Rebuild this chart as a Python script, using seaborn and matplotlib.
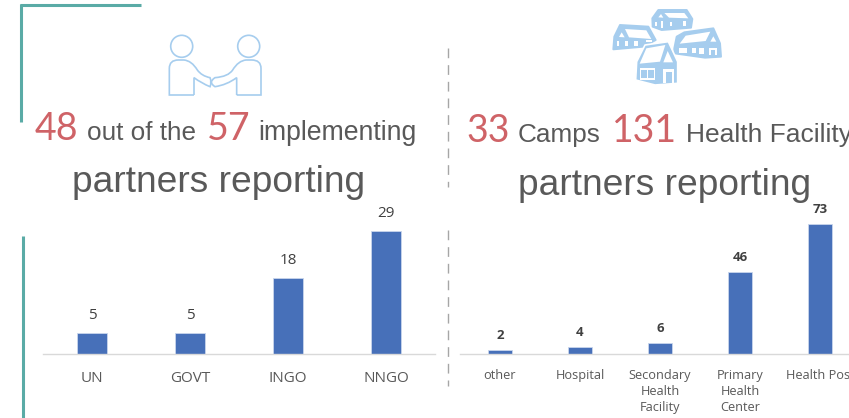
import numpy as np
import matplotlib
matplotlib.use("Agg")
import matplotlib.pyplot as plt
from matplotlib.path import Path
from matplotlib.patches import PathPatch, Circle, Polygon
import seaborn as sns

W, H = 849, 418

partner_types = ["UN", "GOVT", "INGO", "NNGO"]
partner_counts = [5, 5, 18, 29]

facility_types = ["other", "Hospital", "Secondary\nHealth\nFacility", "Primary\nHealth\nCenter", "Health Post"]
facility_counts = [2, 4, 6, 46, 73]

BLUE = "#4770b9"
GREY = "#595959"
RED = "#cf6367"
TEAL = "#5aaba6"
ICON = "#a6cdee"

sns.set_theme(style="white")
plt.rcParams["font.family"] = ["Open Sans", "DejaVu Sans"]

fig = plt.figure(figsize=(W / 100, H / 100), dpi=100)


def px_axes(x0, y0, x1, y1):
    return fig.add_axes([x0 / W, 1 - y1 / H, (x1 - x0) / W, (y1 - y0) / H])


def bar_chart(ax, cats, vals, width, ymax, lab_size, lab_pad, lab_weight, tick_size, tick_pad):
    sns.barplot(x=cats, y=vals, ax=ax, color=BLUE, width=width, saturation=1,
                edgecolor="#c9d6ec", linewidth=0.6)
    ax.set_xlim(-0.5, len(cats) - 0.5)
    ax.set_ylim(0, ymax)
    ax.patch.set_alpha(0)
    sns.despine(ax=ax, left=True)
    ax.spines["bottom"].set_color("#d9d9d9")
    ax.spines["bottom"].set_linewidth(1)
    ax.set_yticks([])
    ax.tick_params(axis="x", length=0, labelsize=tick_size, labelcolor=GREY, pad=tick_pad)
    for lab in ax.get_xticklabels():
        lab.set_linespacing(1.32)
    ax.bar_label(ax.containers[0], padding=lab_pad, fontsize=lab_size,
                 color="#404040", fontweight=lab_weight)


ax1 = px_axes(43, 200, 435, 354)
bar_chart(ax1, partner_types, partner_counts, 0.31, 154 / 4.24, 11, 7, "normal", 11, 12)

ax2 = px_axes(460, 190, 860, 354)
bar_chart(ax2, facility_types, facility_counts, 0.31, 164 / 1.78, 9.5, 6, "bold", 9.2, 10.5)

# everything else sits on a pixel overlay
ov = fig.add_axes([0, 0, 1, 1], zorder=5)
ov.set_xlim(0, W)
ov.set_ylim(H, 0)
ov.axis("off")

ov.plot([20, 141], [4.5, 4.5], color=TEAL, lw=2.2, solid_capstyle="butt")
ov.plot([21, 21], [4, 122], color=TEAL, lw=2.2, solid_capstyle="butt")
ov.plot([23, 23], [236, 418], color=TEAL, lw=2.2, solid_capstyle="butt")
for y0, y1 in [(48, 187), (230, 386)]:
    ov.plot([448, 448], [y0, y1], color="#a6a6a6", lw=1, dashes=(7, 5))


def head_text(x, y, s, big=False, size=None):
    if big:
        ov.text(x, y, s, color=RED, fontsize=27, family="Lato", va="baseline", ha="left")
    else:
        ov.text(x, y, s, color=GREY, fontsize=size, family="Liberation Sans", va="baseline", ha="left")


head_text(35, 140, "48", True)
head_text(87, 140, "out of the", size=18.8)
head_text(207, 140, "57", True)
head_text(258, 140, "implementing", size=19.2)
head_text(72, 192, "partners reporting", size=26.7)

head_text(466, 142, "33", True)
head_text(518, 142, "Camps", size=18.8)
head_text(612, 142, "131", True)
head_text(686, 142, "Health Facility", size=19)
head_text(518, 195, "partners reporting", size=26.7)


def hs(pts):
    return [(160 + x / 3, 30 + y / 3) for x, y in pts]


lw_icon = 1.2
for cx in (181.7, 248.7):
    ov.add_patch(Circle((cx, 46.3), 11, fill=False, ec=ICON, lw=lw_icon))
M, L, C = Path.MOVETO, Path.LINETO, Path.CURVE3
left_arm = Path(
    hs([(102, 195), (28, 195), (28, 115), (28, 90), (55, 90), (72, 90), (95, 92),
        (112, 120), (125, 138), (150, 143), (156, 157), (150, 170), (125, 160), (102, 143), (102, 195)]),
    [M, L, L, C, C, L, C, C, C, C, C, C, C, C, L],
)
right_arm = Path(
    hs([(230, 195), (303, 195), (303, 115), (303, 90), (275, 90), (258, 90), (235, 92),
        (218, 120), (205, 140), (165, 143), (143, 157), (165, 170), (200, 165), (230, 143), (230, 195)]),
    [M, L, L, C, C, L, C, C, C, C, C, C, C, C, L],
)
for p in (left_arm, right_arm):
    ov.add_patch(PathPatch(p, fill=False, ec=ICON, lw=lw_icon))


def hp(pts):
    return [(605 + x / 3, 5 + y / 3) for x, y in pts]


def box(x0, y0, x1, y1):
    return [(x0, y0), (x1, y0), (x1, y1), (x0, y1)]


def house(outline, holes, halo=False):
    ov.add_patch(Polygon(hp(outline), closed=True, fc=ICON, ec="white" if halo else ICON,
                         lw=1.2 if halo else 1.4, joinstyle="round"))
    for h in holes:
        ov.add_patch(Polygon(hp(h), closed=True, fc="white", ec="none"))


house([(142, 40), (160, 15), (245, 15), (262, 42), (258, 68), (170, 75), (143, 65)],
      [[(178, 24), (238, 24), (250, 40), (192, 38)],
       [(160, 37), (168, 27), (175, 38)],
       box(150, 50, 155, 64), box(169, 48, 175, 70), box(195, 50, 202, 64), box(235, 48, 242, 62)])
house([(25, 133), (28, 95), (45, 60), (130, 65), (152, 105), (115, 125)],
      [[(60, 72), (124, 76), (139, 102), (72, 97)],
       [(42, 96), (50, 82), (59, 97)],
       box(37, 108, 43, 122), box(60, 108, 70, 122), box(88, 108, 100, 122), box(122, 106, 142, 112)])
house([(208, 130), (215, 95), (238, 82), (325, 70), (345, 115), (348, 155), (300, 158), (208, 145)],
      [[(242, 92), (316, 80), (302, 108), (224, 116)],
       [(316, 110), (325, 94), (334, 110)],
       box(222, 128, 247, 143), box(262, 128, 272, 145), box(283, 128, 298, 148),
       [(312, 130), (336, 130), (336, 150), (331, 150), (331, 136), (318, 136), (318, 150), (312, 150)]])
house([(92, 225), (95, 170), (120, 120), (190, 110), (218, 170), (218, 235), (150, 240)],
      [[(124, 130), (181, 120), (165, 170), (104, 176)],
       [(175, 172), (188, 138), (204, 172)],
       box(104, 190, 150, 225),
       [(175, 193), (206, 193), (206, 234), (200, 234), (200, 200), (182, 200), (182, 234), (175, 234)]],
      halo=True)
for r in (box(109, 195, 125, 220), box(130, 195, 146, 220)):
    ov.add_patch(Polygon(hp(r), closed=True, fc=ICON, ec="none"))

fig.savefig("out.png", dpi=100)
